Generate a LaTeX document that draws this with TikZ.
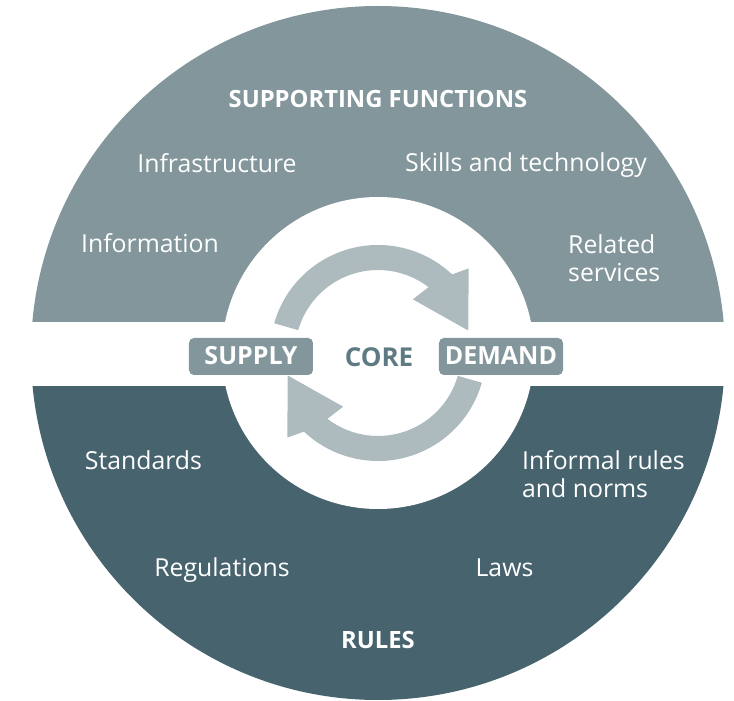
\documentclass[tikz,border=0pt]{standalone}
\usepackage{fontspec}
\setmainfont{Open Sans}
\usetikzlibrary{positioning}
\definecolor{supportgrey}{HTML}{82969B}
\definecolor{rulesteal}{HTML}{47636E}
\definecolor{cyclegrey}{HTML}{ADBBBF}
\definecolor{coregrey}{HTML}{5E7A82}
\tikzset
{
    bandtext/.style = {text=white, font=\fontsize{24.8}{28}\selectfont, anchor=base, inner sep=0pt},
    bandhead/.style = {text=white, font=\bfseries\fontsize{23.8}{28}\selectfont, anchor=base, inner sep=0pt},
    sidebox/.style  = {fill=supportgrey, text=white, rounded corners=5pt, minimum width=124pt, minimum height=37pt, text height=17pt, text depth=0pt, font=\bfseries\fontsize{25}{28}\selectfont, inner sep=0pt},
    cyclearrow/.style = {fill=cyclegrey}
}
\newcommand\RBig{347}
\newcommand\RIn{156}

\begin{document}
\begin{tikzpicture}[x=1pt,y=1pt]
\useasboundingbox (-378,-348) rectangle (356,353);
%% the two halves of the disc
\begin{scope}
  \clip (-400,31) rectangle (400,400);
  \fill[supportgrey] (0,0) circle (\RBig);
\end{scope}
\begin{scope}
  \clip (-400,-34) rectangle (400,-400);
  \fill[rulesteal] (0,0) circle (\RBig);
\end{scope}
\fill[white] (0,0) circle (\RIn);

%% the cycle
\foreach \rot in {0,180}
  \fill[cyclearrow, rotate=\rot] (164:108) arc[start angle=164, end angle=46.7, radius=108] -- (43:124) -- (14:93) -- (57:64) -- (52.5:83) arc[start angle=52.5, end angle=164, radius=83] -- cycle;

\node (support)   [bandhead]  at (0,245)        {SUPPORTING FUNCTIONS};
\node (infra)     [bandtext]  at (-161,180)     {Infrastructure};
\node (skills)    [bandtext]  at (148,181)      {Skills and technology};
\node (info)      [bandtext]  at (-228,100)     {Information};
\node (related)   [bandtext, align=left, anchor=base west] at (190,71) {Related\\services};

\node (supply)    [sidebox]   at (-127,-3.5)    {SUPPLY};
\node (core)      [text=coregrey, font=\bfseries\fontsize{26}{28}\selectfont, anchor=base, inner sep=0pt] at (1,-14) {CORE};
\node (demand)    [sidebox]   at (123,-3.5)     {DEMAND};

\node (standards) [bandtext]  at (-234.5,-117)  {Standards};
\node (informal)  [bandtext, align=left, anchor=base west] at (144,-145) {Informal rules\\and norms};
\node (regs)      [bandtext]  at (-156,-224)    {Regulations};
\node (laws)      [bandtext]  at (126.5,-224)   {Laws};
\node (rules)     [bandhead]  at (0,-295)       {RULES};
\end{tikzpicture}
\end{document}
